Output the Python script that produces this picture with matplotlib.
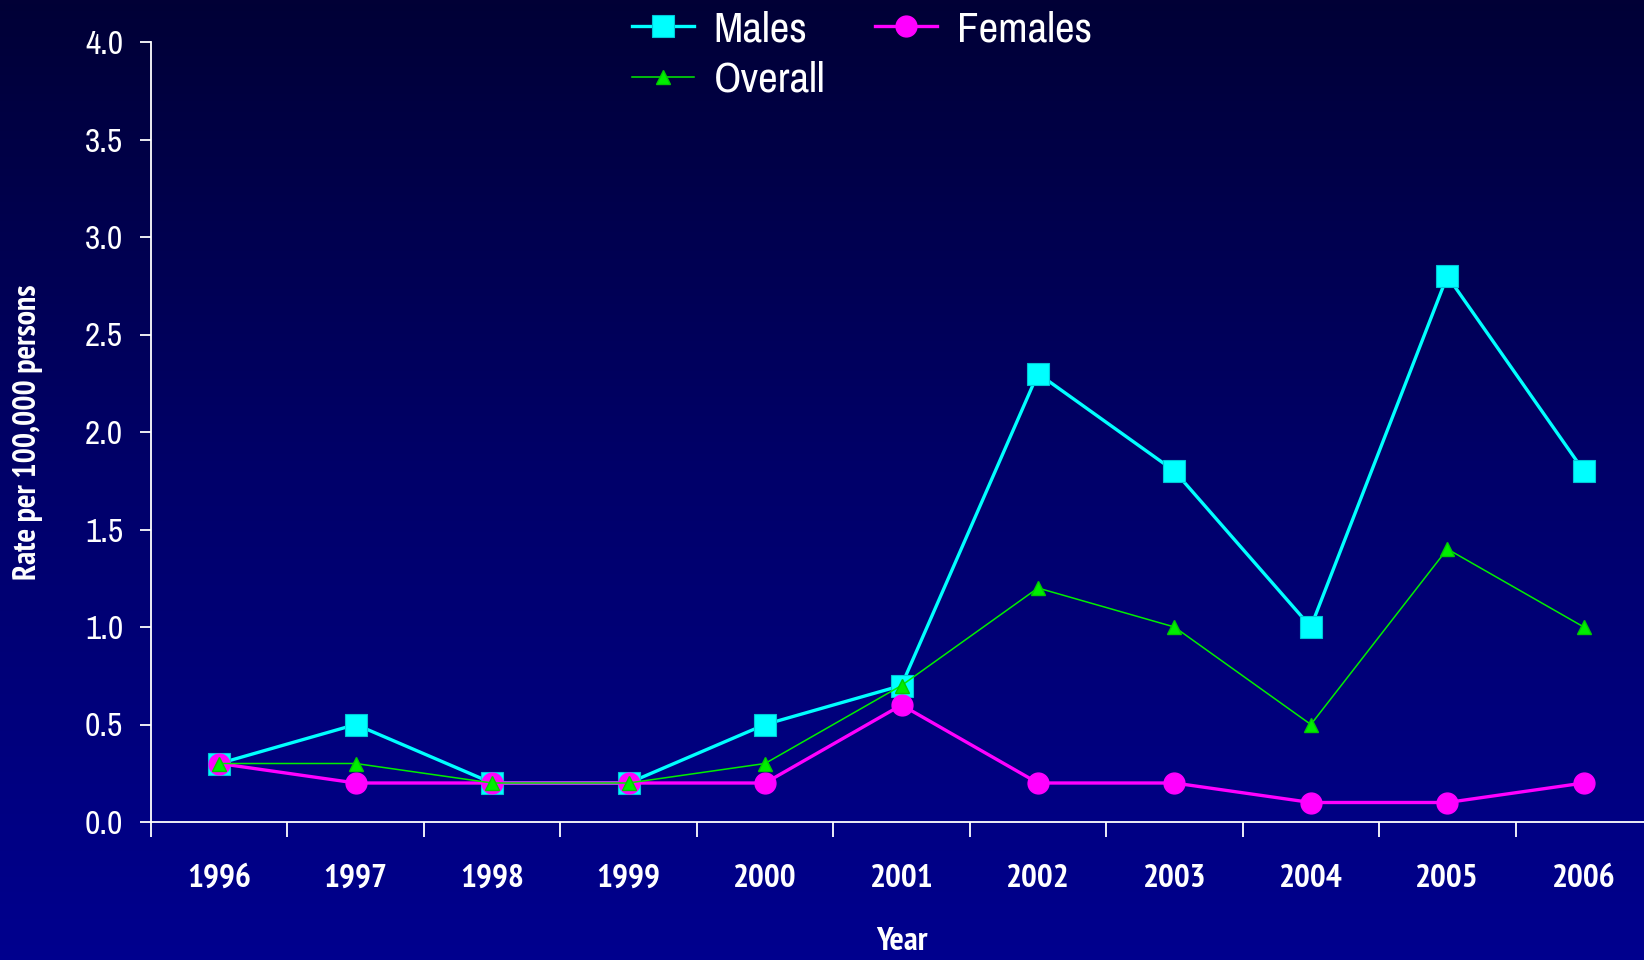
import numpy as np
import matplotlib
matplotlib.use("Agg")
import matplotlib.pyplot as plt
from matplotlib import font_manager as fm
from matplotlib.colors import LinearSegmentedColormap

years = ['1996', '1997', '1998', '1999', '2000', '2001',
         '2002', '2003', '2004', '2005', '2006']
males = [0.3, 0.5, 0.2, 0.2, 0.5, 0.7, 2.3, 1.8, 1.0, 2.8, 1.8]
females = [0.3, 0.2, 0.2, 0.2, 0.2, 0.6, 0.2, 0.2, 0.1, 0.1, 0.2]
overall = [0.3, 0.3, 0.2, 0.2, 0.3, 0.7, 1.2, 1.0, 0.5, 1.4, 1.0]


def pick_font(bold):
    # look for a narrow / condensed face, like Arial Narrow in the original
    best = None
    for f in fm.fontManager.ttflist:
        key = (f.name + ' ' + f.fname).lower()
        if f.style != 'normal' or 'oblique' in key or 'italic' in key:
            continue
        is_bold = 'bold' in key or f.weight in ('bold', 700)
        if is_bold != bold:
            continue
        rank = None
        if 'narrow' in key:
            rank = 0
        elif 'condensed' in key and 'light' not in key:
            rank = 1
        if rank is not None and (best is None or rank < best[0]):
            best = (rank, f.fname)
    if best:
        return fm.FontProperties(fname=best[1])
    return fm.FontProperties(family='Liberation Sans',
                             weight='bold' if bold else 'normal')


reg = pick_font(False)
bold = pick_font(True)
leg_font = reg.copy()
leg_font.set_size(31)

W, H = 1644, 960
fig = plt.figure(figsize=(W / 100, H / 100), dpi=100)

# background gradient
bg = fig.add_axes([0, 0, 1, 1], zorder=-10)
cmap = LinearSegmentedColormap.from_list('bg', ['#010036', '#00006a', '#00008e'])
bg.imshow(np.linspace(0, 1, 256).reshape(-1, 1), aspect='auto', cmap=cmap,
          extent=[0, 1, 0, 1])
bg.axis('off')

left, right, top, bottom = 151, 1652, 42, 822
ax = fig.add_axes([left / W, 1 - bottom / H, (right - left) / W, (bottom - top) / H])
ax.patch.set_alpha(0)

x = np.arange(len(years))
ax.plot(x, males, color='#00ffff', lw=2.4, marker='s', ms=16,
        mec='#00c8d8', mew=0.8, label='Males', zorder=3)
ax.plot(x, females, color='#ff00ff', lw=2.4, marker='o', ms=15,
        mec='#ff00ff', label='Females', zorder=4)
ax.plot(x, overall, color='#00ee00', lw=1.1, marker='^', ms=9.5,
        mec='#00cc00', label='Overall', zorder=5)

ax.set_xlim(-0.5, len(years) - 0.5)
ax.set_ylim(0, 4.0)
yt = np.arange(0, 4.01, 0.5)
ax.set_yticks(yt)
ax.set_yticklabels([f'{v:.1f}' for v in yt], fontproperties=reg, fontsize=24)
ax.set_xticks(x)
ax.set_xticklabels(years, fontproperties=bold, fontsize=24)
ax.set_xticks(np.arange(-0.5, len(years) - 0.5, 1), minor=True)

for s in ['top', 'right']:
    ax.spines[s].set_visible(False)
for s in ['left', 'bottom']:
    ax.spines[s].set_color('white')
    ax.spines[s].set_linewidth(1.3)

ax.tick_params(axis='y', colors='white', length=8, width=1.3, pad=12)
ax.tick_params(axis='x', which='major', colors='white', length=0, pad=30)
ax.tick_params(axis='x', which='minor', colors='white', length=11, width=1.3)

ax.set_xlabel('Year', color='white', fontproperties=bold, fontsize=24, labelpad=24)
fig.text(28 / W, 1 - 432 / H, 'Rate per 100,000 persons', color='white',
         fontproperties=bold, fontsize=23, rotation=90, ha='center', va='center')

h, l = ax.get_legend_handles_labels()
order = [0, 2, 1]
leg = fig.legend([h[i] for i in order], [l[i] for i in order], ncol=2,
                 loc='upper left', bbox_to_anchor=(632 / W, 1 - 10 / H),
                 frameon=False, prop=leg_font, handlelength=1.45,
                 handletextpad=0.45, columnspacing=1.15, labelspacing=0.3,
                 borderpad=0, borderaxespad=0)
for t in leg.get_texts():
    t.set_color('white')

fig.savefig('out.png', dpi=100)
